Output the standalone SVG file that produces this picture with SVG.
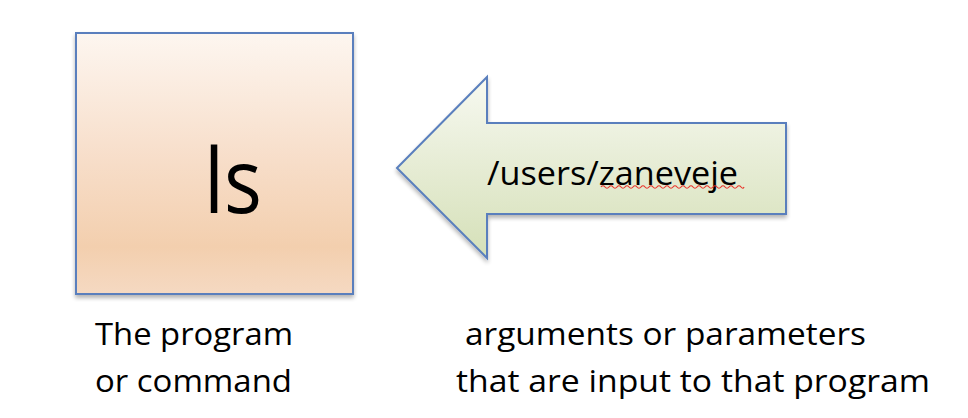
<svg xmlns="http://www.w3.org/2000/svg" width="968" height="418" viewBox="0 0 968 418">
<defs>
<linearGradient id="gBox" x1="0" y1="0" x2="0" y2="1">
<stop offset="0" stop-color="#fdf6f0"/>
<stop offset="0.5" stop-color="#f7ddc8"/>
<stop offset="0.82" stop-color="#f3cfae"/>
<stop offset="1" stop-color="#f5d9c2"/>
</linearGradient>
<linearGradient id="gArrow" x1="0" y1="0" x2="0" y2="1">
<stop offset="0" stop-color="#f7f9f1"/>
<stop offset="0.5" stop-color="#e6ecd4"/>
<stop offset="1" stop-color="#d5e0b8"/>
</linearGradient>
<filter id="sh" x="-10%" y="-10%" width="120%" height="125%">
<feGaussianBlur in="SourceAlpha" stdDeviation="2"/>
<feOffset dx="0" dy="3"/>
<feComponentTransfer><feFuncA type="linear" slope="0.3"/></feComponentTransfer>
<feMerge><feMergeNode/><feMergeNode in="SourceGraphic"/></feMerge>
</filter>
</defs>
<style>
.shape{stroke:#5a7fbd;stroke-width:2;}
.t{font-family:"Open Sans","Noto Sans","DejaVu Sans",sans-serif;fill:#000;}
</style>
<rect width="968" height="418" fill="#fff"/>
<g id="program">
<rect class="shape" x="76" y="33" width="277" height="261" fill="url(#gBox)" filter="url(#sh)"/>
<text class="t" x="204" y="213" font-size="90" textLength="58" lengthAdjust="spacingAndGlyphs">ls</text>
</g>
<g id="arguments">
<path class="shape" d="M397,168 L487,77 L487,123 L786,123 L786,214 L487,214 L487,258 Z" fill="url(#gArrow)" filter="url(#sh)" stroke-linejoin="miter"/>
<text class="t" x="487" y="185" font-size="33" textLength="251" lengthAdjust="spacingAndGlyphs">/users/zaneveje</text>
<path d="M601,187 q2,-2.5 4,0 t4,0 t4,0 t4,0 t4,0 t4,0 t4,0 t4,0 t4,0 t4,0 t4,0 t4,0 t4,0 t4,0 t4,0 t4,0 t4,0 t4,0 t4,0 t4,0 t4,0 t4,0 t4,0 t4,0 t4,0 t4,0 t4,0 t4,0 t4,0 t4,0 t4,0 t4,0 t4,0 t4,0 t4,0 t3,0" fill="none" stroke="#e8332a" stroke-width="1.2"/>
</g>
<g id="labels">
<text class="t" x="95" y="345" font-size="31" textLength="198" lengthAdjust="spacingAndGlyphs">The program</text>
<text class="t" x="95" y="392" font-size="31" textLength="197" lengthAdjust="spacingAndGlyphs">or command</text>
<text class="t" x="465" y="345" font-size="31" textLength="401" lengthAdjust="spacingAndGlyphs">arguments or parameters</text>
<text class="t" x="456" y="392" font-size="31" textLength="474" lengthAdjust="spacingAndGlyphs">that are input to that program</text>
</g>
<g id="connectors"></g>
</svg>
